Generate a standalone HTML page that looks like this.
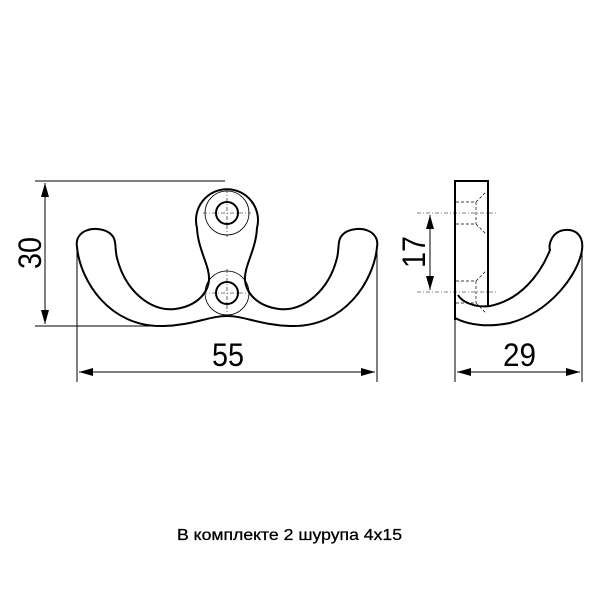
<!DOCTYPE html>
<html><head><meta charset="utf-8"><style>html,body{margin:0;padding:0;background:#fff}</style></head>
<body>
<svg width="600" height="600" viewBox="0 0 600 600" xmlns="http://www.w3.org/2000/svg" font-family="Liberation Sans, sans-serif">
<defs>
<marker id="a" viewBox="0 0 14 8" refX="14" refY="4" markerWidth="14" markerHeight="8" orient="auto-start-reverse" markerUnits="userSpaceOnUse"><path d="M0,0L14,4L0,8z" fill="#000"/></marker>
</defs>
<g stroke="#000" fill="none" stroke-width="1">
<line x1="35" y1="181" x2="225" y2="181"/>
<line x1="35" y1="326" x2="160" y2="326"/>
<line x1="77" y1="250" x2="77" y2="382"/>
<line x1="377" y1="250" x2="377" y2="382"/>
<line x1="45" y1="183" x2="45" y2="324" marker-start="url(#a)" marker-end="url(#a)"/>
<line x1="79" y1="372" x2="375" y2="372" marker-start="url(#a)" marker-end="url(#a)"/>
</g>
<g stroke="#000" fill="none" stroke-width="2">
<path d="M77,247 C74,230 95,225 108,232 C118,238 114,246 117,258 C125,290 150,312 175,309 C198,306 208,292 209,280 C210,266 198,250 197,228 A31,31 0 1 1 257,228 C256,250 244,266 245,280 C246,292 256,306 279,309 C304,312 329,290 337,258 C340,246 336,238 346,232 C359,225 380,230 377,247 C374,280 345,328 290,326 C260,325 245,316 227,316 C209,316 194,325 164,326 C109,328 80,280 77,247 Z"/>
</g>
<g stroke="#000" fill="none" stroke-width="0.8">
<circle cx="227" cy="213" r="22"/>
<circle cx="227" cy="293" r="22"/>
</g>
<g stroke="#000" fill="none" stroke-width="2">
<circle cx="227" cy="213" r="11"/>
<circle cx="227" cy="293" r="11"/>
</g>
<g stroke="#000" stroke-width="0.6" stroke-dasharray="4,2,1,2">
<line x1="203" y1="213" x2="251" y2="213"/><line x1="227" y1="189" x2="227" y2="237"/>
<line x1="203" y1="293" x2="251" y2="293"/><line x1="227" y1="269" x2="227" y2="317"/>
</g>
<text x="212" y="366" font-size="32" textLength="32" lengthAdjust="spacingAndGlyphs">55</text>
<text transform="translate(41,269) rotate(-90)" font-size="32" textLength="32" lengthAdjust="spacingAndGlyphs">30</text>
<g stroke="#000" fill="none" stroke-width="2">
<path d="M488,307 L488,181 L455,181 L455,320"/>
<path d="M455,318 C470,326 490,327 510,323 C550,312 578,275 582,250 C584,235 575,229 565,230 C552,231 548,245 550,250 C540,275 520,300 490,306 C475,308 462,302 458,295"/>
</g>
<g stroke="#000" fill="none" stroke-width="1">
<line x1="455" y1="320" x2="455" y2="382"/>
<line x1="582" y1="252" x2="582" y2="382"/>
<line x1="457" y1="372" x2="580" y2="372" marker-start="url(#a)" marker-end="url(#a)"/>
<line x1="430" y1="215" x2="430" y2="290" marker-start="url(#a)" marker-end="url(#a)"/>
</g>
<g stroke="#000" stroke-width="0.6" stroke-dasharray="4,2,1,2">
<line x1="417" y1="213" x2="497" y2="213"/>
<line x1="417" y1="292" x2="497" y2="292"/>
</g>
<g stroke="#000" fill="none" stroke-width="0.7" stroke-dasharray="3,2">
<path d="M456,202 L476,202 L486,192"/><path d="M456,224 L476,224 L486,234"/><line x1="476" y1="202" x2="476" y2="224"/>
<path d="M456,281 L476,281 L486,271"/><path d="M456,303 L476,303 L486,313"/><line x1="476" y1="281" x2="476" y2="303"/>
</g>
<text x="503" y="366" font-size="32" textLength="33" lengthAdjust="spacingAndGlyphs">29</text>
<text transform="translate(425,268) rotate(-90)" font-size="32" textLength="32" lengthAdjust="spacingAndGlyphs">17</text>
<text x="177" y="540" font-size="16" textLength="225" lengthAdjust="spacingAndGlyphs" stroke="#000" stroke-width="0.3">В комплекте 2 шурупа 4x15</text>
</svg>
</body></html>
